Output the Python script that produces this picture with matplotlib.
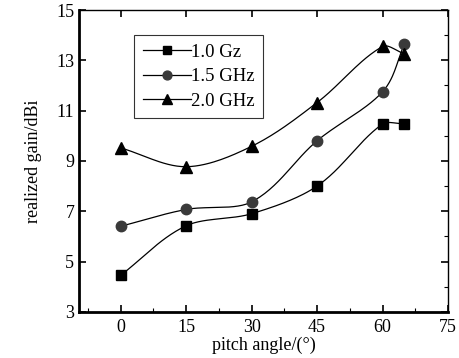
import numpy as np
import matplotlib.pyplot as plt

plt.rcParams['font.family'] = ['Liberation Serif', 'DejaVu Serif']

# data
angle = [0, 15, 30, 45, 60, 65]
gain_10 = [4.45, 6.42, 6.9, 8.0, 10.47, 10.47]
gain_15 = [6.4, 7.07, 7.37, 9.8, 11.75, 13.65]
gain_20 = [9.52, 8.77, 9.58, 11.32, 13.55, 13.25]
labels = ["1.0 Gz", "1.5 GHz", "2.0 GHz"]
xticks = [0, 15, 30, 45, 60, 75]
yticks = [3, 5, 7, 9, 11, 13, 15]

xlim = (-9.5, 75)
ylim = (3, 15)


def smooth(x, y, n=30):
    # excel-like smoothed line, control points scaled by segment length
    sx = (xlim[1] - xlim[0])
    sy = (ylim[1] - ylim[0]) * 0.82
    p = np.column_stack([np.asarray(x) / sx, np.asarray(y) / sy])
    pts = []
    for i in range(len(p) - 1):
        p0 = p[i - 1] if i > 0 else p[i]
        p1, p2 = p[i], p[i + 1]
        p3 = p[i + 2] if i + 2 < len(p) else p[i + 1]
        d01 = np.linalg.norm(p1 - p0)
        d12 = np.linalg.norm(p2 - p1)
        d23 = np.linalg.norm(p3 - p2)
        c1 = p1 + (p2 - p0) * d12 / (3 * (d01 + d12))
        c2 = p2 - (p3 - p1) * d12 / (3 * (d12 + d23))
        t = np.linspace(0, 1, n)[:, None]
        seg = ((1 - t) ** 3 * p1 + 3 * (1 - t) ** 2 * t * c1
               + 3 * (1 - t) * t ** 2 * c2 + t ** 3 * p2)
        pts.append(seg)
    pts = np.vstack(pts)
    return pts[:, 0] * sx, pts[:, 1] * sy


fig = plt.figure(figsize=(4.6, 3.58), dpi=100)
ax = fig.add_axes([0.172, 0.129, 0.802, 0.843])

series = [(gain_10, 's', 'black', 7), (gain_15, 'o', '#3a3a3a', 7.5), (gain_20, '^', 'black', 8)]
for (g, m, c, ms), lab in zip(series, labels):
    sx, sy = smooth(angle, g)
    ax.plot(sx, sy, color='black', lw=0.9)
    ax.plot(angle, g, ls='none', marker=m, color=c, ms=ms)
    # proxy for the legend
    ax.plot([], [], color='black', lw=0.9, marker=m, mfc=c, mec=c, ms=ms * 0.85, label=lab)

ax.set_xlim(*xlim)
ax.set_ylim(*ylim)
ax.set_xticks(xticks)
ax.set_yticks(yticks)
ax.set_xticks(np.arange(-7.5, 75, 7.5), minor=True)
ax.set_yticks(np.arange(3, 15, 1), minor=True)
ax.tick_params(which='major', direction='in', length=5, width=1.2, labelsize=13,
               top=True, right=True)
ax.tick_params(which='minor', direction='in', length=3, width=0.8, top=True, right=True)
ax.tick_params(axis='y', which='minor', left=False)
ax.tick_params(axis='x', which='minor', top=False)
ax.tick_params(axis='x', which='major', top=True, pad=5)

for s in ['left', 'bottom']:
    ax.spines[s].set_linewidth(2)
for s in ['top', 'right']:
    ax.spines[s].set_linewidth(1)

ax.set_xlabel("pitch angle/(°)", fontsize=13, labelpad=1)
ax.set_ylabel("realized gain/dBi", fontsize=13, labelpad=10)

leg = ax.legend(loc='upper left', bbox_to_anchor=(0.149, 0.917), fontsize=13.5,
                frameon=True, fancybox=False, edgecolor='black', handlelength=2.6,
                handletextpad=0.0, borderpad=0.45, labelspacing=0.4, borderaxespad=0)
leg.get_frame().set_linewidth(0.8)

fig.savefig("out.png", dpi=100)
